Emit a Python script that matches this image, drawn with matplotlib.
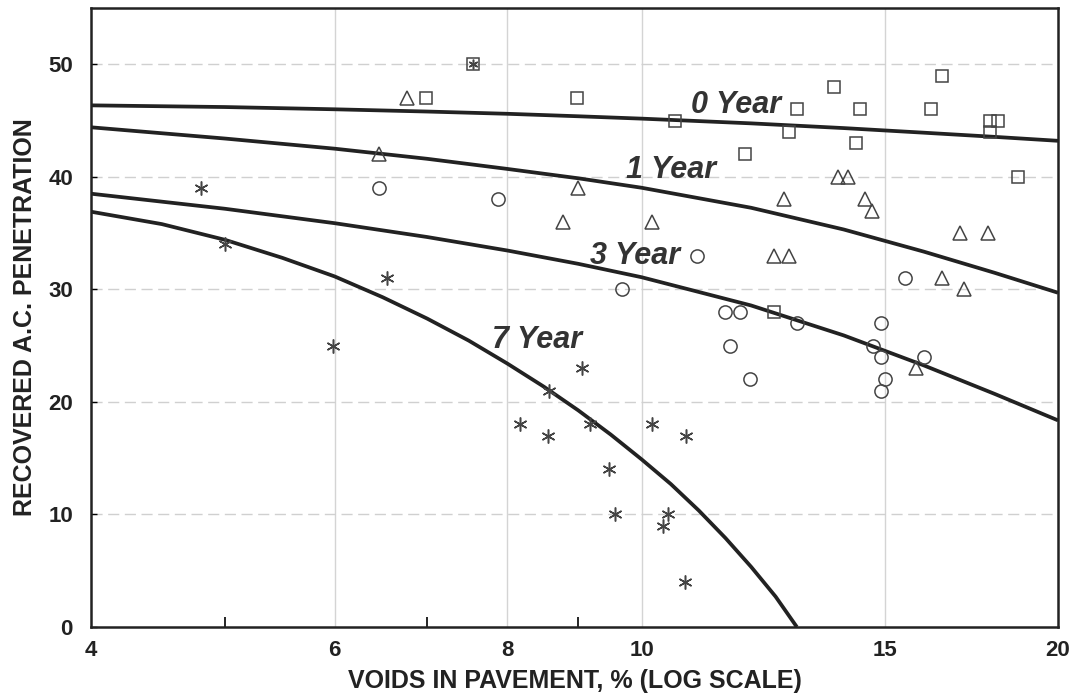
import matplotlib.pyplot as plt
from matplotlib.ticker import FixedLocator, NullFormatter, FixedFormatter

plt.rcParams['font.family'] = ['Liberation Sans', 'DejaVu Sans']

# measured points: voids (%) vs recovered penetration
sq_x = [6.98, 8.98, 10.57, 12.95, 12.78, 11.88, 12.47, 13.77, 14.39, 14.29,
        16.2, 16.5, 17.86, 18.1, 17.86, 18.7]
sq_y = [47, 47, 45, 46, 44, 42, 28, 48, 46, 43, 46, 49, 45, 45, 44, 40]
boxed_x = [7.56]
boxed_y = [50]

tri_x = [6.77, 6.46, 9.0, 8.78, 10.18, 12.67, 12.47, 12.78, 13.87, 14.1,
         14.5, 14.68, 17.0, 17.8, 16.5, 17.1, 15.8]
tri_y = [47, 42, 39, 36, 36, 38, 33, 33, 40, 40, 38, 37, 35, 35, 31, 30, 23]

cir_x = [6.46, 7.87, 9.68, 10.97, 11.49, 11.78, 11.59, 11.98, 12.95, 14.9,
         14.7, 14.9, 15.0, 14.9, 16.0, 15.5]
cir_y = [39, 38, 30, 33, 28, 28, 25, 22, 27, 27, 25, 24, 22, 21, 24, 31]

star_x = [4.8, 5.0, 6.55, 5.98, 8.57, 9.06, 8.17, 8.56, 9.18, 10.18, 10.77,
          9.48, 9.57, 10.45, 10.36, 10.75]
star_y = [39, 34, 31, 25, 21, 23, 18, 17, 18, 18, 17, 14, 10, 10, 9, 4]

# aging curves
curve_x = [4, 5, 6, 7, 8, 9, 10, 12, 14, 16, 18, 20]
yr0 = [46.35, 46.2, 46.0, 45.8, 45.6, 45.38, 45.17, 44.75, 44.33, 43.92,
       43.55, 43.2]
yr1 = [44.4, 43.4, 42.5, 41.6, 40.7, 39.87, 39.03, 37.25, 35.32, 33.35,
       31.47, 29.7]
yr3 = [38.5, 37.16, 35.88, 34.65, 33.45, 32.27, 31.08, 28.57, 25.91, 23.24,
       20.71, 18.36]
yr7_x = [4, 4.5, 5, 5.5, 6, 6.5, 7, 7.5, 8, 8.5, 9, 9.5, 10, 10.5, 11, 11.5,
         12, 12.5, 12.95]
yr7 = [36.9, 35.8, 34.4, 32.8, 31.15, 29.3, 27.4, 25.45, 23.4, 21.35, 19.25,
       17.1, 14.9, 12.7, 10.35, 7.9, 5.35, 2.7, 0.0]

curve_labels = ['0 Year', '1 Year', '3 Year', '7 Year']
label_x = [11.7, 10.5, 9.9, 8.4]
label_y = [46.4, 40.6, 33.0, 25.5]

xticks = [4, 6, 8, 10, 15, 20]
yticks = [0, 10, 20, 30, 40, 50]

fig = plt.figure(figsize=(10.78, 7.0), dpi=100)
ax = fig.add_axes([91 / 1078, 1 - 627 / 700, 967 / 1078, 619 / 700])

ax.set_xscale('log')
ax.set_xlim(4, 20)
ax.set_ylim(0, 55)

line_kw = dict(color='#222222', lw=2.7, solid_capstyle='butt',
               solid_joinstyle='round', zorder=3)
ax.plot(curve_x, yr0, **line_kw)
ax.plot(curve_x, yr1, **line_kw)
ax.plot(curve_x, yr3, **line_kw)
ax.plot(yr7_x, yr7, **line_kw)

mk = dict(linestyle='none', mfc='none', mec='#444444', mew=1.1, zorder=4)
ax.plot(sq_x, sq_y, marker='s', ms=8.5, **mk)
ax.plot(boxed_x, boxed_y, marker='s', ms=8.5, **mk)
ax.plot(boxed_x, boxed_y, marker=(6, 2, 0), ms=7, **mk)
ax.plot(tri_x, tri_y, marker='^', ms=10, **mk)
ax.plot(cir_x, cir_y, marker='o', ms=9.5, **mk)
ax.plot(star_x, star_y, marker=(6, 2, 0), ms=10, **mk)

for t, lx, ly in zip(curve_labels, label_x, label_y):
    ax.text(lx, ly, t, ha='center', va='center', fontsize=22,
            fontweight='bold', style='italic', color='#333333', zorder=5)

# axes, ticks and grid
ax.xaxis.set_major_locator(FixedLocator(xticks))
ax.xaxis.set_major_formatter(FixedFormatter([str(v) for v in xticks]))
ax.xaxis.set_minor_locator(FixedLocator([5, 7, 9]))
ax.xaxis.set_minor_formatter(NullFormatter())
ax.set_yticks(yticks)

ax.tick_params(axis='x', which='major', length=0, pad=9, labelsize=16)
ax.tick_params(axis='x', which='minor', direction='in', length=7, width=1.2)
ax.tick_params(axis='y', which='major', direction='in', length=4, width=1,
               pad=13, labelsize=16)
for lab in ax.get_xticklabels() + ax.get_yticklabels():
    lab.set_fontweight('bold')
    lab.set_color('#222222')

for v in [6, 8, 10, 15]:
    ax.axvline(v, color='#d4d4d4', lw=1.0, zorder=1)
for v in [10, 20, 30, 40, 50]:
    ax.axhline(v, color='#d0d0d0', lw=1.0, ls=(0, (8, 4)), zorder=1)

for s in ax.spines.values():
    s.set_linewidth(1.8)
    s.set_color('#222222')

ax.set_xlabel('VOIDS IN PAVEMENT, % (LOG SCALE)', fontsize=18,
              fontweight='bold', color='#222222', labelpad=6)
ax.set_ylabel('RECOVERED A.C. PENETRATION', fontsize=18,
              fontweight='bold', color='#222222', labelpad=8)

fig.savefig('out.png', dpi=100)
